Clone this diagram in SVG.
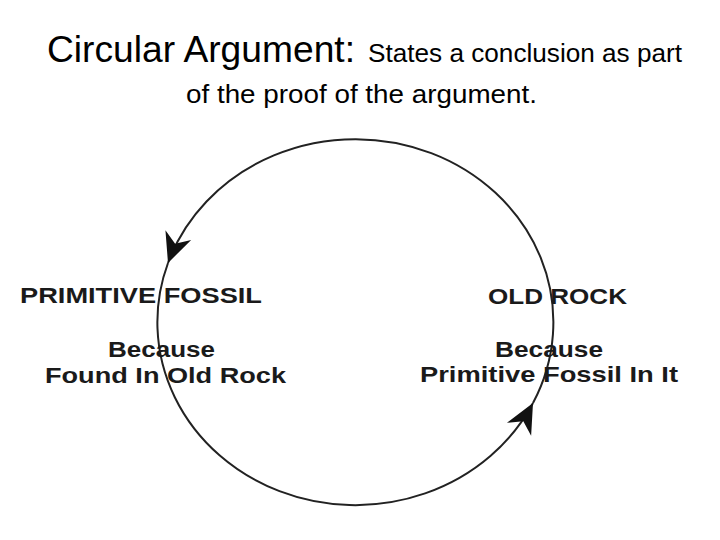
<svg xmlns="http://www.w3.org/2000/svg" width="720" height="540" viewBox="0 0 720 540">
<style>
.title{font-family:"Liberation Sans",Arial,sans-serif;fill:#000}
.lbl{font-family:"Liberation Sans",Arial,sans-serif;font-weight:bold;fill:#1a1a1a;font-size:22px}
.conn{fill:none;stroke:#222;stroke-width:2}
</style>
<defs>
<marker id="ah" markerUnits="userSpaceOnUse" markerWidth="40" markerHeight="40" viewBox="-30 -15 35 30" refX="0" refY="0" orient="auto">
<path d="M0,0 L-26,-12 L-18,0 L-26,12 Z" fill="#111"/>
</marker>
</defs>
<rect width="720" height="540" fill="#fff"/>
<g id="title">
<text class="title" y="62"><tspan x="47" font-size="37" textLength="308" lengthAdjust="spacingAndGlyphs">Circular Argument:</tspan><tspan x="368" font-size="26" textLength="314" lengthAdjust="spacingAndGlyphs">States a conclusion as part</tspan></text>
<text class="title" x="186" y="103" font-size="26" textLength="351" lengthAdjust="spacingAndGlyphs">of the proof of the argument.</text>
</g>
<g id="connectors">
<path class="conn" d="M533,403 A198,183 0 1 0 168,263" marker-end="url(#ah)"/>
<path class="conn" d="M168,263 A198,183 0 0 0 533,403" marker-end="url(#ah)"/>
</g>
<g id="primitive-fossil">
<text class="lbl" x="20" y="303" textLength="242" lengthAdjust="spacingAndGlyphs">PRIMITIVE FOSSIL</text>
<text class="lbl" x="108" y="357" textLength="107" lengthAdjust="spacingAndGlyphs">Because</text>
<text class="lbl" x="45" y="383" textLength="241" lengthAdjust="spacingAndGlyphs">Found In Old Rock</text>
</g>
<g id="old-rock">
<text class="lbl" x="488" y="304" textLength="139" lengthAdjust="spacingAndGlyphs">OLD ROCK</text>
<text class="lbl" x="495" y="357" textLength="108" lengthAdjust="spacingAndGlyphs">Because</text>
<text class="lbl" x="420" y="382" textLength="258" lengthAdjust="spacingAndGlyphs">Primitive Fossil In It</text>
</g>
</svg>
